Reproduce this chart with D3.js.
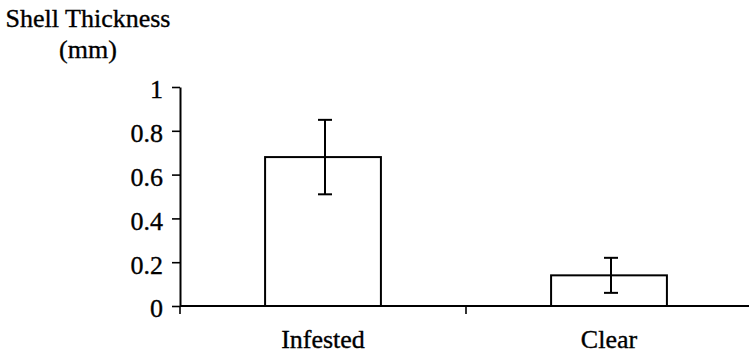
<!DOCTYPE html>
<html>
<head>
<meta charset="utf-8">
<script src="https://cdn.jsdelivr.net/npm/d3@7"></script>
<style>
    body { margin: 0; background: #fff; }
    svg { display: block; }
    text { font-family: "Liberation Serif", "Times New Roman", serif; fill: #000; stroke: #000; stroke-width: 0.35px; }
</style>
</head>
<body>
<div id="chart"></div>
<script>
// values
const categories = ['Infested', 'Clear'];
const means = [0.68, 0.14];
const errors = [0.17, 0.08];
const yTicks = [0, 0.2, 0.4, 0.6, 0.8, 1];
const yTitle = ['Shell Thickness', '(mm)'];

const width = 749, height = 356;
const margin = { top: 87, right: -3, bottom: 50, left: 180 };

const svg = d3.select('#chart').append('svg')
    .attr('width', width)
    .attr('height', height);

const x = d3.scaleBand()
    .domain(categories)
    .range([margin.left, width - margin.right])
    .padding(0);

const y = d3.scaleLinear()
    .domain([0, 1])
    .range([height - margin.bottom, margin.top]);

const barW = x.bandwidth() * 0.405;

// y axis
const yAxis = d3.axisLeft(y)
    .tickValues(yTicks)
    .tickSize(8)
    .tickPadding(9)
    .tickSizeOuter(0)
    .tickFormat(d => String(d));

const gy = svg.append('g')
    .attr('transform', `translate(${margin.left}, 0)`)
    .call(yAxis);
gy.select('.domain').attr('stroke-width', 2);
gy.selectAll('.tick line').attr('stroke-width', 1.6);
gy.selectAll('.tick text')
    .attr('font-size', 26)
    .attr('dy', '0.42em');

// x axis line and category boundary ticks
const x0 = y(0);
svg.append('line')
    .attr('x1', margin.left)
    .attr('x2', width)
    .attr('y1', x0)
    .attr('y2', x0)
    .attr('stroke', '#000')
    .attr('stroke-width', 2);

const bounds = categories.map(c => x(c)).concat([x.range()[1]]);
svg.selectAll('.xtick')
    .data(bounds)
    .join('line')
    .attr('class', 'xtick')
    .attr('x1', d => d)
    .attr('x2', d => d)
    .attr('y1', x0)
    .attr('y2', x0 + 8)
    .attr('stroke', '#000')
    .attr('stroke-width', 1.6);

svg.selectAll('.xlabel')
    .data(categories)
    .join('text')
    .attr('class', 'xlabel')
    .attr('x', d => x(d) + x.bandwidth() / 2)
    .attr('y', x0 + 42)
    .attr('text-anchor', 'middle')
    .attr('font-size', 26)
    .text(d => d);

// bars
svg.selectAll('.bar')
    .data(categories)
    .join('rect')
    .attr('class', 'bar')
    .attr('x', d => x(d) + (x.bandwidth() - barW) / 2)
    .attr('width', barW)
    .attr('y', (d, i) => y(means[i]))
    .attr('height', (d, i) => y(0) - y(means[i]))
    .attr('fill', '#fff')
    .attr('stroke', '#000')
    .attr('stroke-width', 2);

// error bars
const capW = 14;
const eb = svg.selectAll('.err')
    .data(categories)
    .join('g')
    .attr('class', 'err')
    .attr('transform', d => `translate(${x(d) + x.bandwidth() / 2 + 2}, 0)`);

eb.append('line')
    .attr('x1', 0).attr('x2', 0)
    .attr('y1', (d, i) => y(means[i] + errors[i]))
    .attr('y2', (d, i) => y(means[i] - errors[i]));
eb.append('line')
    .attr('x1', -capW / 2).attr('x2', capW / 2)
    .attr('y1', (d, i) => y(means[i] + errors[i]))
    .attr('y2', (d, i) => y(means[i] + errors[i]));
eb.append('line')
    .attr('x1', -capW / 2).attr('x2', capW / 2)
    .attr('y1', (d, i) => y(means[i] - errors[i]))
    .attr('y2', (d, i) => y(means[i] - errors[i]));
eb.selectAll('line')
    .attr('stroke', '#000')
    .attr('stroke-width', 2);

// axis title
svg.append('text')
    .attr('text-anchor', 'middle')
    .attr('font-size', 26)
    .selectAll('tspan')
    .data(yTitle)
    .join('tspan')
    .attr('x', 88)
    .attr('y', (d, i) => 27 + i * 31)
    .text(d => d);
</script>
</body>
</html>
